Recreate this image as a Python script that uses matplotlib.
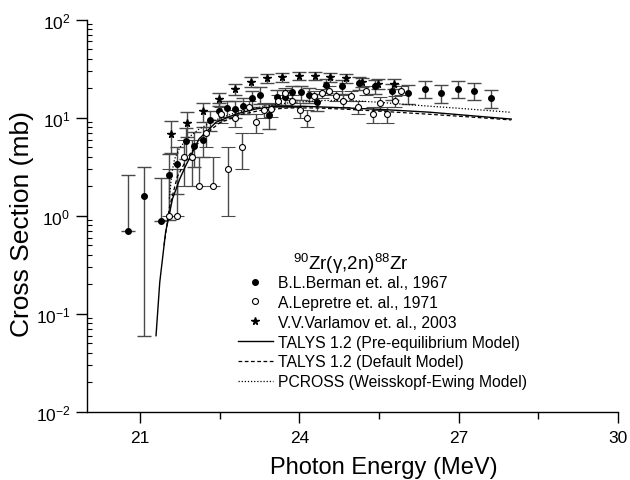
import numpy as np
import matplotlib
matplotlib.use("Agg")
import matplotlib.pyplot as plt
from matplotlib.ticker import LogLocator, FixedLocator, NullFormatter, FixedFormatter
from matplotlib.lines import Line2D

plt.rcParams['font.family'] = ['Liberation Sans', 'DejaVu Sans']
plt.rcParams['mathtext.fontset'] = 'custom'
plt.rcParams['mathtext.rm'] = 'Liberation Sans'
plt.rcParams['mathtext.it'] = 'Liberation Sans:italic'
plt.rcParams['mathtext.default'] = 'regular'

# ---- data ----
berman_E = [20.77, 21.08, 21.39, 21.55, 21.70, 21.86, 22.01, 22.18, 22.32, 22.48, 22.63,
            22.79, 22.94, 23.10, 23.26, 23.42, 23.57, 23.72, 23.87, 24.03, 24.19, 24.34,
            24.50, 24.80, 25.13, 25.43, 25.74, 26.05, 26.36, 26.66, 26.98, 27.29, 27.60]
berman_s = [0.70, 1.61, 0.89, 2.61, 3.38, 5.84, 5.12, 5.98, 9.57, 11.8, 12.5,
            12.3, 13.3, 15.8, 17.1, 10.7, 16.4, 16.4, 18.2, 18.2, 17.1, 14.6,
            21.6, 20.9, 22.6, 20.9, 18.6, 17.8, 19.8, 18.0, 19.8, 18.9, 16.0]
berman_err = [1.9, 1.55, 1.53, 1.7, 1.7, 2.0, 2.0, 2.0, 2.2, 2.3, 2.4,
              2.4, 2.5, 2.8, 3.4, 3.0, 3.0, 3.0, 3.0, 3.0, 3.0, 3.0,
              3.5, 3.5, 3.5, 3.5, 3.5, 3.9, 4.0, 3.8, 3.8, 3.6, 3.3]

lep_E = [21.55, 21.69, 21.83, 21.97, 22.10, 22.24, 22.38, 22.52, 22.65, 22.78, 22.92,
         23.06, 23.19, 23.34, 23.47, 23.60, 23.73, 23.87, 24.01, 24.14, 24.28, 24.42,
         24.55, 24.69, 24.83, 24.97, 25.11, 25.25, 25.38, 25.52, 25.65, 25.80, 25.92]
lep_s = [1.0, 1.0, 4.0, 4.0, 2.0, 7.0, 2.0, 10.9, 3.0, 10.0, 5.0,
         13.0, 9.0, 12.0, 12.3, 14.9, 17.9, 14.9, 12.0, 10.0, 16.8, 17.8,
         18.9, 16.8, 14.9, 16.8, 13.0, 18.9, 10.9, 14.1, 10.9, 14.8, 18.9]
lep_err = [2.0] * len(lep_s)

var_E = [21.58, 21.88, 22.19, 22.49, 22.79, 23.09, 23.39, 23.68, 23.99, 24.30, 24.58,
         24.88, 25.18, 25.48, 25.78]
var_s = [6.84, 8.85, 11.6, 15.6, 19.7, 23.3, 25.3, 25.9, 26.5, 26.5, 25.9,
         25.3, 23.0, 22.1, 22.1]
var_err = [2.5] * len(var_s)

talys_pre_E = [21.30, 21.37, 21.48, 21.61, 21.75, 21.86, 22.11, 22.43, 22.80, 23.18,
               23.56, 24.06, 24.57, 25.5, 26.45, 27.99]
talys_pre_s = [0.06, 0.21, 0.68, 1.49, 2.4, 3.25, 6.08, 9.0, 10.9, 12.3,
               13.1, 13.1, 12.8, 12.2, 11.4, 9.7]
talys_def_E = [21.45, 21.55, 21.7, 21.9, 22.2, 22.5, 22.9, 23.3, 23.8, 24.3, 24.9,
               25.6, 26.4, 27.2, 27.99]
talys_def_s = [0.5, 1.2, 2.5, 4.0, 6.6, 8.9, 10.8, 12.0, 12.6, 12.6, 12.2,
               11.6, 10.9, 10.2, 9.5]
pcross_E = [21.55, 21.6, 21.65, 21.75, 21.9, 22.1, 22.4, 22.8, 23.3, 23.8, 24.4,
            24.94, 25.5, 26.14, 27.0, 27.96]
pcross_s = [1.5, 2.8, 3.8, 5.0, 6.2, 7.6, 9.4, 11.3, 13.0, 14.2, 15.0,
            15.0, 14.4, 13.5, 12.5, 11.4]

xticks = [21, 24, 27, 30]
xminor = [22.5, 25.5, 28.5]
yticks = [1e-2, 1e-1, 1e0, 1e1, 1e2]
ytick_labels = ['$10^{-2}$', '$10^{-1}$', '$10^{0}$', '$10^{1}$', '$10^{2}$']


def asym(s, e):
    s = np.asarray(s); e = np.asarray(e)
    lower = np.where(e < s, e, 0.0)
    return np.vstack([lower, e])


fig = plt.figure(figsize=(6.30, 4.81), dpi=100)
W, H = 630, 481
ax = fig.add_axes([87/W, 1-413/H, (618-87)/W, (413-20.7)/H])

ecol = '#4a4a4a'
common = dict(ecolor=ecol, elinewidth=1.0, capsize=5.3, capthick=1.0, linestyle='none')
ax.errorbar(berman_E, berman_s, yerr=asym(berman_s, berman_err), fmt='o',
            mfc='black', mec='black', ms=4.0, **common)
ax.errorbar(lep_E, lep_s, yerr=asym(lep_s, lep_err), fmt='o',
            mfc='white', mec='black', mew=0.8, ms=4.3, **common)
ax.errorbar(var_E, var_s, yerr=asym(var_s, var_err), fmt='*',
            mfc='black', mec='black', ms=5.5, **common)

ax.plot(talys_pre_E, talys_pre_s, '-', color='black', lw=1.0)
ax.plot(talys_def_E, talys_def_s, '--', color='black', lw=0.9, dashes=(3, 2))
ax.plot(pcross_E, pcross_s, ':', color='black', lw=0.9, dashes=(1, 1.5))

ax.set_yscale('log')
ax.set_xlim(20, 30)
ax.set_ylim(1e-2, 1e2)

ax.xaxis.set_major_locator(FixedLocator(xticks))
ax.xaxis.set_minor_locator(FixedLocator(xminor))
ax.yaxis.set_major_locator(FixedLocator(yticks))
ax.yaxis.set_major_formatter(FixedFormatter(ytick_labels))
ax.yaxis.set_minor_locator(LogLocator(base=10, subs=np.arange(2, 10)))
ax.yaxis.set_minor_formatter(NullFormatter())

ax.tick_params(axis='x', which='major', direction='out', length=8, width=1, labelsize=12.5, pad=5)
ax.tick_params(axis='x', which='minor', direction='out', length=5, width=1)
ax.tick_params(axis='y', which='major', direction='out', length=8, width=1, labelsize=12.5, pad=4)
ax.tick_params(axis='y', which='minor', direction='in', length=3.5, width=0.8)

for s in ['top', 'right']:
    ax.spines[s].set_visible(False)
for s in ['left', 'bottom']:
    ax.spines[s].set_linewidth(1.0)

ax.set_xlabel('Photon Energy (MeV)', fontsize=17)
ax.set_ylabel('Cross Section (mb)', fontsize=19)
ax.xaxis.set_label_coords((384-87)/531, (413-457)/392.3)
ax.yaxis.set_label_coords((34-87)/531, (413-224)/392.3)

handles = [
    Line2D([], [], marker='o', ls='none', mfc='black', mec='black', ms=4.0),
    Line2D([], [], marker='o', ls='none', mfc='white', mec='black', mew=0.8, ms=4.3),
    Line2D([], [], marker='*', ls='none', mfc='black', mec='black', ms=5.5),
    Line2D([], [], ls='-', color='black', lw=1.0),
    Line2D([], [], ls='--', color='black', lw=0.9, dashes=(3, 2)),
    Line2D([], [], ls=':', color='black', lw=0.9, dashes=(1, 1.5)),
]
labels = ['B.L.Berman et. al., 1967', 'A.Lepretre et. al., 1971', 'V.V.Varlamov et. al., 2003',
          'TALYS 1.2 (Pre-equilibrium Model)', 'TALYS 1.2 (Default Model)',
          'PCROSS (Weisskopf-Ewing Model)']
leg = ax.legend(handles, labels, loc='upper left', bbox_to_anchor=(238/W, 1-276/H),
                bbox_transform=fig.transFigure, frameon=False, fontsize=11.3,
                handlelength=2.2, handletextpad=0.35, labelspacing=0.31,
                borderpad=0, borderaxespad=0)
fig.text(293/W, 1-264/H, r'$^{90}$Zr($\gamma$,2n)$^{88}$Zr', fontsize=13.5,
         ha='left', va='center')

fig.savefig('out.png', dpi=100)
